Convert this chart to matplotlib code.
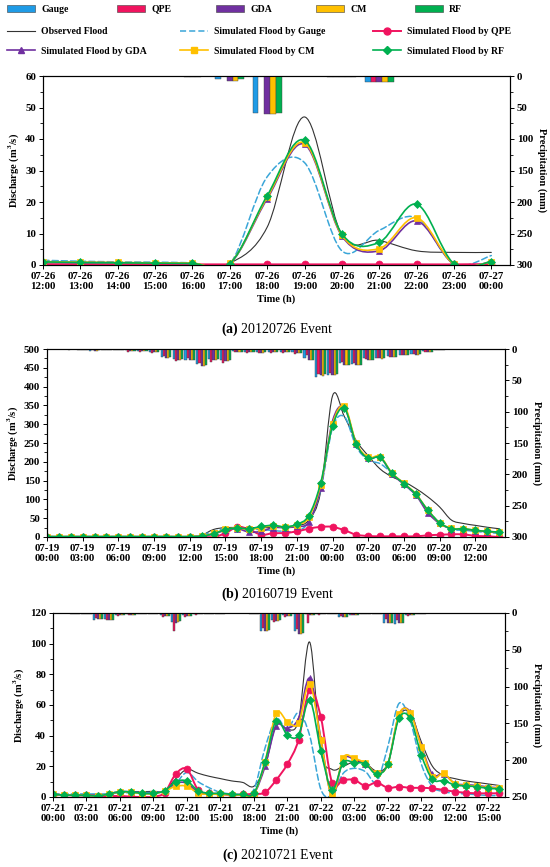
import numpy as np
import matplotlib
matplotlib.use('Agg')
import matplotlib.pyplot as plt
import matplotlib.patches as mpatches
from matplotlib.lines import Line2D
from matplotlib.path import Path
from matplotlib.ticker import MultipleLocator

plt.rcParams['font.family'] = ['Liberation Serif', 'DejaVu Serif']
plt.rcParams['font.weight'] = 'bold'
plt.rcParams['axes.labelweight'] = 'bold'
plt.rcParams['font.size'] = 7
plt.rcParams['mathtext.fontset'] = 'custom'
plt.rcParams['mathtext.rm'] = 'Liberation Serif'
plt.rcParams['mathtext.bf'] = 'Liberation Serif:bold'

# ---------------- (a) 20120726 event, hourly 07-26 12:00 .. 07-27 00:00
a_ticks = ['07-26\n12:00', '07-26\n13:00', '07-26\n14:00', '07-26\n15:00', '07-26\n16:00',
           '07-26\n17:00', '07-26\n18:00', '07-26\n19:00', '07-26\n20:00', '07-26\n21:00',
           '07-26\n22:00', '07-26\n23:00', '07-27\n00:00']
a_obs = [0.3, 0.3, 0.3, 0.3, 0.3, 0.6, 12.0, 47.0, 9.5, 7.8, 4.5, 4.0, 4.0]
a_gauge = [1.5, 1.2, 1.0, 0.9, 0.7, 0.3, 28.0, 32.5, 4.5, 11.0, 15.0, 0.3, 3.0]
a_qpe = [0.2, 0.2, 0.2, 0.2, 0.2, 0.2, 0.2, 0.2, 0.2, 0.2, 0.2, 0.2, 0.3]
a_gda = [1.0, 0.8, 0.7, 0.6, 0.5, 0.4, 21.0, 38.3, 9.2, 4.5, 14.0, 0.3, 1.0]
a_cm = [1.1, 0.9, 0.8, 0.7, 0.6, 0.5, 21.5, 38.8, 9.5, 5.2, 15.0, 0.3, 1.0]
a_rf = [1.0, 0.8, 0.7, 0.6, 0.5, 0.4, 22.0, 39.6, 9.9, 7.2, 19.3, 0.4, 1.1]
a_rain_gauge = [0, 0, 0, 0, 0.5, 5, 59, 0.5, 1, 9, 0, 0, 0]
a_rain_qpe = [0, 0, 0, 0, 1.5, 0, 0, 0.3, 1, 9, 0, 0, 0]
a_rain_gda = [0, 0, 0, 0, 1.5, 8, 60, 0.5, 1.5, 9, 0, 0, 0]
a_rain_cm = [0, 0, 0, 0, 1.5, 8, 60, 0.5, 1.5, 9, 0, 0, 0]
a_rain_rf = [0, 0, 0, 0, 0.5, 5, 58, 0.5, 1, 9, 0, 0, 0]

# ---------------- (b) 20160719 event, hourly 07-19 00:00 .. 07-20 14:00
b_ticks = ['07-19\n00:00', '07-19\n03:00', '07-19\n06:00', '07-19\n09:00', '07-19\n12:00',
           '07-19\n15:00', '07-19\n18:00', '07-19\n21:00', '07-20\n00:00', '07-20\n03:00',
           '07-20\n06:00', '07-20\n09:00', '07-20\n12:00']
b_obs = [1, 1, 1, 1, 1, 1, 1, 1, 1, 1, 1, 1, 1,
         5, 20, 25, 25, 25, 25, 25, 27, 30, 45, 120, 375, 320, 256, 216, 181,
         160, 147, 129, 107, 80, 45, 36, 31, 26, 22]
b_gauge = [1, 1, 1, 1, 1, 1, 1, 1, 1, 1, 1, 1, 1,
           5, 15, 22, 22, 20, 20, 17, 15, 15, 40, 125, 290, 320, 240, 205, 195,
           170, 140, 112, 72, 38, 20, 18, 15, 12, 10]
b_qpe = [0, 0, 0, 0, 0, 0, 0, 0, 0, 0, 0, 0, 0, 0, 0,
         10, 27, 20, 6, 10, 10.6, 15, 22, 27, 27, 18, 6, 2.7, 1.8, 1.8, 1.8, 1.8,
         4.4, 6, 7, 7, 3, 2, 0]
b_gda = [1, 1, 1, 1, 1, 1, 1, 1, 1, 1, 1, 1, 1,
         2, 8, 18, 22, 13, 15, 25, 25, 28, 40, 130, 308, 345, 247, 210, 212,
         168, 140, 112, 65, 36, 22, 21, 17, 14, 12]
b_cm = [1, 1, 1, 1, 1, 1, 1, 1, 1, 1, 1, 1, 1,
        3, 10, 20, 24, 20, 25, 30, 27, 32, 52, 138, 300, 348, 250, 212, 214,
        170, 143, 115, 72, 38, 23, 22, 18, 15, 13]
b_rf = [1, 1, 1, 1, 1, 1, 1, 1, 1, 1, 1, 1, 1,
        2, 9, 19.5, 24, 22, 28, 31, 27, 33.7, 56.7, 142.8, 295, 342, 247, 209, 212,
        169, 142, 114, 71.8, 38, 22, 22, 17.7, 15, 13]
b_rain_gauge = [0, 0.5, 0.5, 1, 3, 1, 1, 2, 3, 4, 12, 16, 18, 24, 16, 18, 3, 4, 5, 4,
                4, 5, 15, 44, 42, 22, 24, 15, 14, 11, 9, 8, 3, 1, 0.5, 0, 0, 0, 0]
b_rain_qpe = [0.5, 0.5, 1, 1.5, 2, 1.5, 1.5, 4, 4, 6, 11, 19, 15, 22, 21, 22, 5, 6, 7, 6,
              6, 8, 10, 40, 38, 20, 22, 16, 14, 12, 10, 8, 5, 2, 0.5, 0.5, 0, 0, 0]
b_rain_gda = [0.3, 0.3, 0.5, 1, 2.5, 1, 1, 3, 3.5, 5, 14, 17, 17, 27, 17, 19, 4, 5, 6, 5,
              5, 6, 17, 42, 41, 26, 25, 18, 15, 12, 10, 9, 4, 1.5, 0.5, 0.3, 0, 0, 0]
b_rain_cm = [0.3, 0.3, 0.5, 1, 2.5, 1, 1, 3, 3.5, 5, 14, 17, 18, 27, 17, 19, 4, 5, 6, 5,
             5, 6.5, 17, 43, 42, 26, 26, 18, 16, 13, 10, 9, 4, 1.5, 0.5, 0.3, 0, 0, 0]
b_rain_rf = [0.2, 0.2, 0.4, 0.8, 2, 0.8, 0.8, 2.5, 3, 4.5, 13, 16, 17, 26, 16, 18, 4, 5, 5.5, 5,
             5, 6, 17, 40, 40, 25, 25, 17, 15, 12, 10, 8.5, 4, 1.5, 0.5, 0.3, 0, 0, 0]

# ---------------- (c) 20210721 event, hourly 07-21 00:00 .. 07-22 16:00
c_ticks = ['07-21\n00:00', '07-21\n03:00', '07-21\n06:00', '07-21\n09:00', '07-21\n12:00',
           '07-21\n15:00', '07-21\n18:00', '07-21\n21:00', '07-22\n00:00', '07-22\n03:00',
           '07-22\n06:00', '07-22\n09:00', '07-22\n12:00', '07-22\n15:00']
c_obs = [1.5, 1.5, 1.5, 1.5, 1.5, 2, 3, 3.5, 3.5, 3.7, 4, 12, 18, 15.5, 13.5, 12, 10.5, 9.5,
         7, 20, 47, 44, 50, 101, 30, 18, 20, 23, 22, 17, 22, 52, 55, 36, 20, 14, 12, 10.5,
         9.5, 8.5, 7.5]
c_gauge = [2, 2, 2, 2, 2, 2, 2.5, 3, 3, 3, 4, 9, 16, 10, 6, 3, 2, 2, 5, 32, 51, 44, 55,
           40, 5, 1.3, 15.4, 18.7, 16.5, 10, 32.8, 61, 50, 21.5, 6.7, 3.5, 2.4, 2, 1.5, 1, 1]
c_qpe = [1.5, 1.3, 1, 1, 0.8, 0.5, 0.7, 0.2, 0, 0.2, 2.8, 15, 18.3, 4.6, 2.4, 2, 1.3, 1.7,
         2, 3, 11.1, 21.5, 37.2, 70, 52, 9.4, 11.1, 11.1, 7.2, 9.4, 6, 6.7, 6, 6, 5.6, 4.6,
         3.5, 2.8, 2.4, 2.4, 2.4]
c_gda = [1.7, 1.3, 1.1, 1.1, 0.7, 2, 3.5, 3.3, 2.4, 2.4, 4.1, 9, 9, 3, 2, 2, 1.5, 1.5, 2,
         20, 46.3, 44.8, 51.3, 77.4, 38, 0.5, 24.6, 24.5, 21.5, 15.9, 21.5, 53.5, 55.6, 33.3,
         14.8, 15, 8.9, 8, 7.5, 6.5, 6]
c_cm = [1.7, 1.3, 1.1, 1.1, 0.7, 2, 3.3, 3.1, 2.2, 2.2, 3.8, 7, 7, 2.5, 1.8, 1.8, 1.3, 1.3, 2,
        23, 54.6, 49.2, 48, 74, 37.2, 0.7, 25.7, 25.2, 22, 15.5, 21.5, 54, 55, 32.8, 13, 15.4,
        8.5, 7.6, 7, 6, 5.8]
c_rf = [1.7, 1.3, 1.1, 1.1, 0.7, 2, 3.5, 3.3, 2.4, 2.4, 4.1, 10, 10.4, 4.1, 2.4, 2.4, 1.7,
        1.7, 2.4, 23, 49.8, 40.4, 40.4, 63.3, 30, 4.6, 22.4, 22.4, 21.5, 14.8, 21.5, 51.3,
        51.3, 27.4, 11.5, 10.7, 7.8, 7.2, 6.7, 5.6, 5.4]
c_rain_gauge = [0.5, 0.5, 1, 1, 9, 8, 3, 2, 1, 1, 3, 12, 3, 2, 1, 1, 0.5, 0.5, 1, 24, 10, 3,
                25, 2, 2, 2, 5, 3, 2, 1, 14, 15, 3, 1, 0.5, 0, 0, 0, 0, 0, 0]
c_rain_qpe = [0.5, 0.5, 2, 1, 7, 9, 4, 3, 2, 2, 5, 24, 6, 3, 1, 1, 0.5, 0.5, 1, 20, 12, 6,
              22, 14, 3, 2, 4, 3, 2, 1, 8, 10, 4, 1, 0.5, 0, 0, 0, 0, 0, 0]
c_rain_gda = [0.5, 0.5, 1.5, 1, 8, 9, 3, 2.5, 1.5, 1.5, 4, 13, 4, 2, 1, 1, 0.5, 0.5, 1, 25,
              11, 4, 28, 3, 2, 2, 5, 3, 2, 1, 13, 14, 3, 1, 0.5, 0, 0, 0, 0, 0, 0]
c_rain_cm = [0.5, 0.5, 1.5, 1, 8, 9, 3, 2.5, 1.5, 1.5, 4, 12, 4, 2, 1, 1, 0.5, 0.5, 1, 25,
             11, 4, 28, 3, 2, 2, 5, 3, 2, 1, 13, 14, 3, 1, 0.5, 0, 0, 0, 0, 0, 0]
c_rain_rf = [0.5, 0.5, 1.5, 1, 8, 9.5, 3, 2.5, 1.5, 1.5, 4, 11, 4, 2, 1, 1, 0.5, 0.5, 1, 23,
             10, 4, 27, 3, 2, 2, 5, 3, 2, 1, 13, 14, 3, 1, 0.5, 0, 0, 0, 0, 0, 0]

# colours (Excel-ish palette)
C_GAUGE = '#1f9be6'
C_QPE = '#f0145f'
C_GDA = '#7030a0'
C_CM = '#ffc000'
C_RF = '#00b050'
C_DASH = '#3aa6d8'
C_OBS = '#333333'
SOURCES = ['Gauge', 'QPE', 'GDA', 'CM', 'RF']
BAR_COLORS = [C_GAUGE, C_QPE, C_GDA, C_CM, C_RF]

W, H = 550, 867
TICK_FS = 7.8


def smooth_path(x, y):
    """smoothed line like Excel: cubic bezier through the points"""
    x = np.asarray(x, float)
    y = np.asarray(y, float)
    n = len(x)
    verts = [(x[0], y[0])]
    codes = [Path.MOVETO]
    for i in range(n - 1):
        i0 = max(i - 1, 0)
        i3 = min(i + 2, n - 1)
        c1 = (x[i] + (x[i + 1] - x[i0]) / 6.0, y[i] + (y[i + 1] - y[i0]) / 6.0)
        c2 = (x[i + 1] - (x[i3] - x[i]) / 6.0, y[i + 1] - (y[i3] - y[i]) / 6.0)
        verts += [c1, c2, (x[i + 1], y[i + 1])]
        codes += [Path.CURVE4] * 3
    return Path(verts, codes)


def draw_series(ax, x, y, color, lw=1.2, ls='-', marker=None, ms=4, z=3):
    ax.add_patch(mpatches.PathPatch(smooth_path(x, y), fill=False, edgecolor=color,
                                    lw=lw, ls=ls, zorder=z, capstyle='round', joinstyle='round'))
    if marker:
        ax.plot(x, y, ls='none', marker=marker, color=color, ms=ms, zorder=z + 0.1,
                markeredgewidth=0.5)


def panel(box, series, rains, ticks, tick_step, xmax, ymax, ystep, pmax, barw, caption, cap_y):
    l, r, t, b = box
    ax = plt.gcf().add_axes([l / W, 1 - b / H, (r - l) / W, (b - t) / H])
    x = np.arange(len(series[0]))
    obs, gauge, qpe, gda, cm, rf = series

    draw_series(ax, x, obs, C_OBS, lw=0.8, z=2)
    draw_series(ax, x, gauge, C_DASH, lw=1.1, ls=(0, (4, 2)), z=2.5)
    draw_series(ax, x, qpe, C_QPE, lw=1.4, marker='o', ms=5, z=3)
    draw_series(ax, x, gda, C_GDA, lw=1.2, marker='^', ms=5, z=3.2)
    draw_series(ax, x, cm, C_CM, lw=1.2, marker='s', ms=4.3, z=3.4)
    draw_series(ax, x, rf, C_RF, lw=1.2, marker='D', ms=3.8, z=3.6)

    ax.set_xlim(0, xmax)
    ax.set_ylim(0, ymax)
    ax.set_xticks(np.arange(len(ticks)) * tick_step)
    ax.set_xticklabels(ticks, linespacing=1.1)
    ax.yaxis.set_major_locator(MultipleLocator(ystep))
    ax.yaxis.set_minor_locator(MultipleLocator(ystep / 2))
    ax.tick_params(axis='both', which='major', direction='out', length=3, width=0.7, pad=2,
                   labelsize=TICK_FS)
    ax.tick_params(axis='y', which='minor', direction='out', length=2, width=0.6)
    ax.set_ylabel('Discharge (m$^{\\mathbf{3}}$/s)', labelpad=3, fontsize=7.5)
    ax.set_xlabel('Time (h)', labelpad=3, fontsize=7.5)

    ax2 = ax.twinx()
    for k, (vals, col) in enumerate(zip(rains, BAR_COLORS)):
        ax2.bar(x + (k - 2) * barw, vals, width=barw, color=col, edgecolor='#404040',
                linewidth=0.3, zorder=2)
    ax2.set_ylim(pmax, 0)
    ax2.set_xlim(0, xmax)
    ax2.yaxis.set_major_locator(MultipleLocator(50))
    ax2.yaxis.set_minor_locator(MultipleLocator(25))
    ax2.tick_params(axis='y', which='major', direction='out', length=3, width=0.7, pad=2,
                    labelsize=TICK_FS)
    ax2.tick_params(axis='y', which='minor', direction='out', length=2, width=0.6)
    ax2.set_ylabel('Precipitation (mm)', rotation=270, labelpad=10, fontsize=7.5)
    for a in (ax, ax2):
        for s in a.spines.values():
            s.set_linewidth(0.8)
    plt.gcf().text(0.505, 1 - cap_y / H, caption, ha='center', va='center',
                   fontsize=10, fontweight='normal')
    return ax


fig = plt.figure(figsize=(5.5, 8.67), dpi=100)

panel((43, 510, 76, 265), [a_obs, a_gauge, a_qpe, a_gda, a_cm, a_rf],
      [a_rain_gauge, a_rain_qpe, a_rain_gda, a_rain_cm, a_rain_rf],
      a_ticks, 1, 12.5, 60, 10, 300, 0.155, '$\\mathbf{(a)}$ 20120726 Event', 329)
panel((47, 505, 349, 537), [b_obs, b_gauge, b_qpe, b_gda, b_cm, b_rf],
      [b_rain_gauge, b_rain_qpe, b_rain_gda, b_rain_cm, b_rain_rf],
      b_ticks, 3, 38.5, 500, 50, 300, 0.18, '$\\mathbf{(b)}$ 20160719 Event', 594)
panel((53, 505, 613, 797), [c_obs, c_gauge, c_qpe, c_gda, c_cm, c_rf],
      [c_rain_gauge, c_rain_qpe, c_rain_gda, c_rain_cm, c_rain_rf],
      c_ticks, 3, 40.5, 120, 20, 250, 0.18, '$\\mathbf{(c)}$ 20210721 Event', 855)


# legend: one small legend per entry so each sits where it does in the figure
def legend_item(handle, label, x_px, y_px):
    lg = fig.legend(handles=[handle], labels=[label], loc='center left',
                    bbox_to_anchor=(x_px / W, 1 - y_px / H), frameon=False,
                    handlelength=2.9, handleheight=0.75, handletextpad=0.6,
                    borderpad=0, borderaxespad=0, fontsize=7)
    return lg


patch_x = [7, 117, 216, 316, 415]
for name, col, px in zip(SOURCES, BAR_COLORS, patch_x):
    legend_item(mpatches.Patch(facecolor=col, edgecolor='#404040', linewidth=0.4), name, px, 9)

legend_item(Line2D([], [], color=C_OBS, lw=0.8), 'Observed Flood', 7, 32)
legend_item(Line2D([], [], color=C_DASH, lw=1.1, ls=(0, (4, 2))), 'Simulated Flood by Gauge', 180, 32)
legend_item(Line2D([], [], color=C_QPE, lw=1.4, marker='o', ms=5), 'Simulated Flood by QPE', 373, 32)
legend_item(Line2D([], [], color=C_GDA, lw=1.2, marker='^', ms=5), 'Simulated Flood by GDA', 7, 51)
legend_item(Line2D([], [], color=C_CM, lw=1.2, marker='s', ms=4.3), 'Simulated Flood by CM', 180, 51)
legend_item(Line2D([], [], color=C_RF, lw=1.2, marker='D', ms=3.8), 'Simulated Flood by RF', 373, 51)

fig.savefig('out.png', dpi=100)
